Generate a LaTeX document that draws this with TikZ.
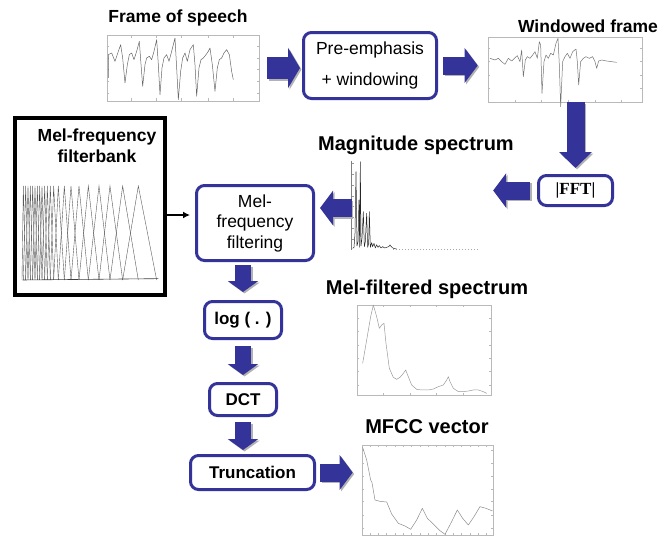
\documentclass[tikz,border=0pt]{standalone}
\usepackage{fontspec}
\setmainfont{Liberation Sans}
\newfontfamily\timesf{Liberation Serif}
\usetikzlibrary{arrows.meta,calc}
\definecolor{navy}{RGB}{51,51,153}
\definecolor{plotgray}{RGB}{185,185,185}
\newcommand\barrow[3]{%
  \draw[#1, draw=black!30, transform canvas={shift={(1.5pt,-1.5pt)}}] #2 -- #3;
  \draw[#1] #2 -- #3;}
\begin{document}
\begin{tikzpicture}[x=1pt,y=-1pt,
  box/.style={draw=navy, line width=3pt, rounded corners=8pt, fill=white, inner sep=0pt, align=center, font=\fontsize{17.5}{20.5}\selectfont},
  bbox/.style={box, font=\fontsize{17}{20}\selectfont\bfseries},
  title/.style={anchor=base, inner sep=0pt, font=\fontsize{20}{24}\selectfont\bfseries},
  stitle/.style={anchor=base, inner sep=0pt, font=\fontsize{17.5}{20}\selectfont\bfseries},
  plotbox/.style={draw=plotgray, line width=0.6pt, inner sep=0pt},
  noplot/.style={inner sep=0pt},
  blkh/.style={draw=navy, line width=18pt, -{Triangle[width=34pt,length=13pt]}},
  blkb/.style={draw=navy, line width=22pt, -{Triangle[width=40pt,length=12pt]}},
  blkd/.style={draw=navy, line width=18pt, -{Triangle[width=32pt,length=16pt]}},
  blkv/.style={draw=navy, line width=16pt, -{Triangle[width=30pt,length=11pt]}},
  thinarrow/.style={draw=black, line width=1.5pt, -{Latex[length=7pt,width=7pt]}},
  curve/.style={line width=0.5pt, line join=round},
  tick/.style={draw=plotgray, line width=0.5pt},
]
\useasboundingbox (0,0) rectangle (659,538);

% ---------- plot frames ----------
\node[plotbox, minimum width=152pt, minimum height=66pt] (speech) at (183,68) {};
\node[plotbox, minimum width=154pt, minimum height=65pt] (wind) at (565,69.5) {};
\node[noplot, minimum width=130pt, minimum height=90pt] (mag) at (417,205) {};
\node[plotbox, minimum width=134pt, minimum height=90pt] (melspec) at (424,350) {};
\node[plotbox, minimum width=131pt, minimum height=90pt] (mfcc) at (427.5,490) {};

% ---------- titles ----------
\node[stitle] (t1) at (178,23) {Frame of speech};
\node[stitle] (t2) at (588,32) {Windowed frame};
\node[title] (t3) at (416,150.5) {Magnitude spectrum};
\node[title] (t4) at (427,294) {Mel-filtered spectrum};
\node[title] (t5) at (427,433) {MFCC vector};

% ---------- speech waveform ----------
\begin{scope}[shift={(100,28)},x=0.3333pt,y=-0.3333pt]
  \foreach \t in {95,170,245,325,400} {\draw[tick] (\t,218)--(\t,211); \draw[tick] (\t,22)--(\t,29);}
  \foreach \t in {55,90,125,160,195} {\draw[tick] (20,\t)--(27,\t); \draw[tick] (478,\t)--(471,\t);}
  \draw[curve, black!60] (25,150)--(25,80)--(35,75)--(45,100)--(55,70)--(62,50)--(68,90)--(75,165)--(82,110)--(88,80)--(95,75)--(102,95)--(110,70)--(118,40)--(122,95)--(128,175)--(135,110)--(140,90)--(148,85)--(155,95)--(162,70)--(170,35)--(175,110)--(180,200)--(186,120)--(192,90)--(200,80)--(207,100)--(215,70)--(225,30)--(230,120)--(235,215)--(242,130)--(248,90)--(255,75)--(262,100)--(270,65)--(280,50)--(285,110)--(290,205)--(297,120)--(303,95)--(310,90)--(318,80)--(325,70)--(330,60)--(337,110)--(345,190)--(352,120)--(358,95)--(365,90)--(372,75)--(380,65)--(388,80)--(395,130)--(400,155);
\end{scope}

% ---------- windowed waveform ----------
\begin{scope}[shift={(480,25)},x=0.3333pt,y=-0.3333pt]
  \foreach \t in {105,185,265,345,425} {\draw[tick] (\t,231)--(\t,224);}
  \foreach \t in {70,110,150,190} {\draw[tick] (24,\t)--(31,\t); \draw[tick] (486,\t)--(479,\t);}
  \draw[curve, black!55] (30,100)--(45,105)--(55,100)--(65,110)--(75,118)--(85,100)--(95,108)--(105,98)--(112,92)--(120,110)--(125,75)--(130,155)--(136,105)--(142,95)--(150,100)--(158,90)--(165,80)--(172,100)--(178,50)--(182,60)--(186,205)--(192,110)--(198,90)--(205,100)--(212,85)--(220,90)--(228,55)--(234,40)--(238,120)--(242,245)--(248,110)--(255,95)--(262,85)--(270,100)--(278,80)--(288,72)--(292,110)--(296,180)--(302,110)--(310,100)--(318,95)--(328,100)--(338,95)--(345,110)--(350,130)--(356,108)--(365,105)--(380,108)--(395,110)--(410,112);
\end{scope}

% ---------- magnitude spectrum ----------
\begin{scope}[shift={(340,150)},x=0.3333pt,y=-0.3333pt]
  \draw[black!50, line width=0.5pt] (35,32)--(35,300);
  \foreach \t in {40,72,105,138,170,203,236,268} {\draw[black!40, line width=0.4pt] (35,\t)--(41,\t);}
  \draw[black!35, line width=0.6pt, dash pattern=on 1pt off 2pt] (160,297)--(420,297);
  \draw[curve, black!85] (38,295)--(42,292)--(45,250)--(48,65)--(51,288)--(54,275)--(57,150)--(59,292)--(61,35)--(63,288)--(66,265)--(70,185)--(73,290)--(76,275)--(80,190)--(83,292)--(86,280)--(88,185)--(91,292)--(95,278)--(98,290)--(102,280)--(106,294)--(110,284)--(114,292)--(118,287)--(123,294)--(128,290)--(134,294)--(140,292)--(146,290)--(150,285)--(154,290)--(160,295)--(170,297);
\end{scope}

% ---------- mel-filtered spectrum ----------
\begin{scope}[shift={(350,290)},x=0.3333pt,y=-0.3333pt]
  \foreach \t in {100,180,260,340} {\draw[tick] (\t,315)--(\t,308); \draw[tick] (\t,45)--(\t,52);}
  \foreach \t in {85,125,165,205,245,285} {\draw[tick] (21,\t)--(28,\t); \draw[tick] (423,\t)--(416,\t);}
  \draw[curve, black!40] (38,220)--(50,150)--(62,80)--(70,45)--(80,80)--(88,115)--(95,105)--(102,100)--(108,160)--(118,235)--(130,262)--(140,268)--(150,262)--(160,250)--(167,240)--(175,260)--(185,285)--(200,298)--(215,300)--(235,300)--(250,297)--(265,290)--(280,285)--(290,270)--(295,260)--(300,275)--(310,295)--(325,305)--(340,305)--(355,303)--(370,300)--(385,300)--(400,305)--(410,310);
\end{scope}

% ---------- MFCC vector ----------
\begin{scope}[shift={(350,440)},x=0.3333pt,y=-0.3333pt]
  \foreach \t in {60,85,110,135,160,185,210,235,260,285,310,335,360,385,410} {\draw[tick] (\t,285)--(\t,279); \draw[tick] (\t,15)--(\t,21);}
  \foreach \t in {30,70,110,148,185,225,265} {\draw[tick] (36,\t)--(42,\t); \draw[tick] (429,\t)--(423,\t);}
  \draw[curve, black!45] (38,22)--(50,60)--(62,120)--(66,128)--(75,180)--(90,184)--(110,186)--(125,222)--(145,250)--(165,258)--(182,268)--(200,240)--(217,205)--(232,235)--(250,252)--(270,272)--(285,283)--(305,245)--(322,210)--(338,235)--(355,255)--(372,230)--(390,200)--(408,205)--(428,213);
\end{scope}

% ---------- filterbank ----------
\node[draw=black, line width=4pt, inner sep=0pt, minimum width=150pt, minimum height=177pt] (fb) at (90,206.5) {};
\node[stitle] (fbt1) at (97,141) {Mel-frequency};
\node[stitle] (fbt2) at (97,162) {filterbank};
\begin{scope}[shift={(10,180)},x=0.3333pt,y=-0.3333pt]
  \foreach \a/\b/\c in {36/40/47, 40/47/54, 47/54/61, 54/61/68, 61/68/75, 68/75/82, 75/82/89, 82/89/96, 89/96/104, 96/104/112, 104/112/121, 112/121/131, 121/131/145, 131/145/163, 145/163/183, 163/183/207, 183/207/235, 207/235/267, 235/267/300, 267/300/338, 300/338/385, 338/385/440}
    {\draw[black!65, line width=0.4pt, line join=miter] (\a,300)--(\b,18)--(\c,300);}
  \draw[black!75, line width=0.6pt] (38,300)--(445,296);
\end{scope}

% ---------- processing boxes ----------
\node[box, minimum width=133pt, minimum height=66pt] (pre) at (370,65.5) {Pre-emphasis\\[10.5pt]+ windowing};
\node[box, minimum width=74pt, minimum height=30pt, font=\fontsize{17}{20}\selectfont\timesf\bfseries] (fft) at (575.5,190.5) {|FFT|};
\node[box, minimum width=117pt, minimum height=75pt] (mel) at (255,223) {Mel-\\frequency\\filtering};
\node[bbox, minimum width=77pt, minimum height=37pt] (log) at (243,320) {log ( . )};
\node[bbox, minimum width=67pt, minimum height=32pt] (dct) at (243,399.5) {DCT};
\node[bbox, minimum width=124pt, minimum height=34pt] (trunc) at (252.5,472.5) {Truncation};

% ---------- connectors ----------
\coordinate (a5) at ([yshift=15pt]mel.east);
\coordinate (a6) at ([yshift=8pt]mel.west);
\barrow{blkb, shorten <=8pt, shorten >=2pt}{(speech.east)}{(speech.east -| pre.west)}
\barrow{blkh, shorten <=5pt, shorten >=10pt}{(pre.east)}{(pre.east -| wind.west)}
\barrow{blkd, shorten <=0pt, shorten >=6pt}{(wind.south -| fft.north)}{(fft.north)}
\barrow{blkh, shorten <=7pt, shorten >=11pt}{(fft.west)}{(fft.west -| mag.east)}
\barrow{blkh, shorten <=0pt, shorten >=5pt}{(mag.west |- a5)}{(a5)}
\draw[thinarrow, shorten >=5pt] (fb.east |- a6) -- (a6);
\barrow{blkv, shorten <=3pt, shorten >=8pt}{(mel.south -| log.north)}{(log.north)}
\barrow{blkv, shorten <=6pt, shorten >=7pt}{(log.south -| dct.north)}{(dct.north)}
\barrow{blkv, shorten <=5pt, shorten >=4pt}{(dct.south)}{(dct.south |- trunc.north)}
\barrow{blkh, shorten <=4pt, shorten >=9pt}{(trunc.east)}{(trunc.east -| mfcc.west)}
\end{tikzpicture}
\end{document}
